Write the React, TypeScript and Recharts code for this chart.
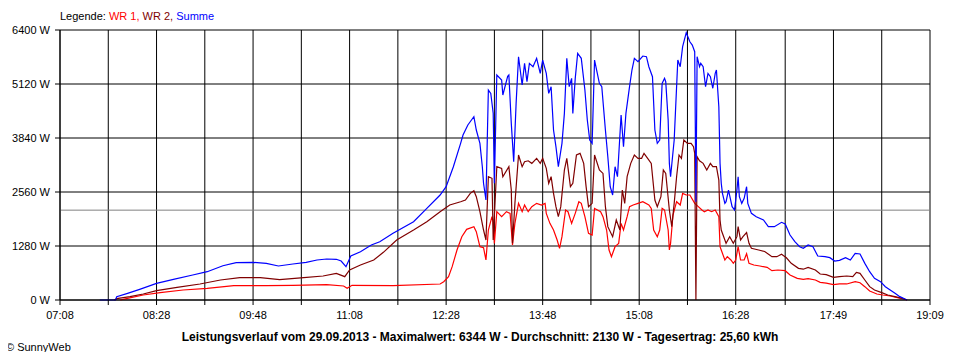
import { LineChart, Line, XAxis, YAxis, CartesianGrid, ReferenceLine } from 'recharts';

// Uhrzeit, Leistung in W
const wr1: [string, number][] = [
  ['07:58', 0], ['08:03', 31], ['08:17', 118], ['08:31', 174], ['08:50', 237], ['09:10', 276], ['09:32', 340], ['09:59', 340],
  ['10:21', 348], ['10:49', 363], ['11:03', 332], ['11:06', 276], ['11:10', 348], ['11:44', 340], ['12:23', 379], ['12:26', 434],
  ['12:30', 553], ['12:33', 790], ['12:37', 1185], ['12:41', 1501], ['12:45', 1675], ['12:51', 1738], ['12:53', 1620], ['12:56', 1264],
  ['12:59', 1240], ['13:01', 948], ['13:03', 1659], ['13:06', 1975], ['13:07', 1856], ['13:08', 1343], ['13:10', 2093], ['13:14', 1975],
  ['13:18', 2093], ['13:21', 2054], ['13:23', 1304], ['13:25', 1817], ['13:28', 2291], ['13:31', 2093], ['13:33', 2252], ['13:36', 2093],
  ['13:39', 2212], ['13:43', 2291], ['13:47', 2252], ['13:50', 2291], ['13:51', 2054], ['13:54', 1817], ['13:57', 1659], ['14:00', 1422],
  ['14:02', 1225], ['14:04', 1501], ['14:07', 2133], ['14:09', 2093], ['14:12', 1817], ['14:15', 2054], ['14:18', 2330], ['14:20', 2291],
  ['14:23', 1975], ['14:26', 1580], ['14:29', 1540], ['14:31', 2172], ['14:36', 2093], ['14:38', 1975], ['14:41', 1659], ['14:43', 1185],
  ['14:45', 1027], ['14:48', 1264], ['14:51', 1343], ['14:53', 1817], ['14:55', 1659], ['14:58', 1975], ['15:00', 2212], ['15:03', 2252],
  ['15:07', 2291], ['15:11', 2330], ['15:16', 2252], ['15:18', 2172], ['15:20', 1659], ['15:23', 1501], ['15:25', 1659], ['15:27', 2172],
  ['15:29', 2133], ['15:32', 1659], ['15:33', 1185], ['15:34', 1343], ['15:36', 2014], ['15:39', 2330], ['15:42', 2252], ['15:44', 2528],
  ['15:47', 2489], ['15:50', 2489], ['15:54', 2291], ['15:57', 2212], ['16:00', 2133], ['16:02', 2093], ['16:05', 2133], ['16:08', 2093],
  ['16:11', 2133], ['16:14', 1975], ['16:15', 1264], ['16:16', 1185], ['16:19', 948], ['16:21', 1027], ['16:24', 948], ['16:26', 869],
  ['16:28', 948], ['16:30', 1264], ['16:32', 948], ['16:35', 948], ['16:37', 1098], ['16:39', 869], ['16:43', 830], ['16:48', 806],
  ['16:54', 774], ['16:58', 695], ['17:03', 711], ['17:09', 695], ['17:13', 593], ['17:19', 513], ['17:24', 490], ['17:28', 505],
  ['17:34', 474], ['17:38', 419], ['17:43', 400], ['17:49', 363], ['17:54', 380], ['18:00', 380], ['18:07', 434], ['18:11', 410],
  ['18:15', 316], ['18:19', 213], ['18:25', 142], ['18:30', 118], ['18:36', 95], ['18:41', 63], ['18:47', 24], ['18:50', 0],
];

const wr2: [string, number][] = [
  ['07:53', 0], ['07:55', 31], ['08:06', 79], ['08:17', 142], ['08:28', 221], ['08:45', 300], ['09:04', 379], ['09:21', 474],
  ['09:37', 529], ['09:54', 529], ['10:10', 482], ['10:30', 529], ['10:46', 569], ['10:57', 632], ['11:04', 553], ['11:08', 711],
  ['11:17', 830], ['11:28', 948], ['11:36', 1130], ['11:47', 1422], ['12:01', 1659], ['12:12', 1856], ['12:23', 2093], ['12:31', 2252],
  ['12:40', 2330], ['12:44', 2370], ['12:48', 2528], ['12:51', 2591], ['12:53', 2449], ['12:56', 2093], ['12:59', 1659], ['13:01', 1422],
  ['13:03', 2923], ['13:06', 2885], ['13:07', 1422], ['13:10', 3160], ['13:14', 3120], ['13:15', 2923], ['13:20', 3160], ['13:22', 2607],
  ['13:23', 1343], ['13:25', 2291], ['13:28', 3437], ['13:31', 3160], ['13:33', 3278], ['13:36', 3300], ['13:39', 3239], ['13:43', 3358],
  ['13:46', 3239], ['13:48', 3358], ['13:51', 3120], ['13:53', 2766], ['13:55', 2923], ['13:57', 2528], ['13:59', 2212], ['14:01', 1975],
  ['14:03', 2212], ['14:06', 3081], ['14:08', 3358], ['14:11', 2686], ['14:13', 2766], ['14:16', 3437], ['14:19', 3476], ['14:22', 3239],
  ['14:24', 2686], ['14:26', 2212], ['14:29', 2291], ['14:31', 3437], ['14:35', 3081], ['14:38', 3000], ['14:40', 2212], ['14:42', 1738],
  ['14:46', 1501], ['14:49', 1896], ['14:52', 1659], ['14:54', 2607], ['14:56', 2291], ['14:58', 2923], ['15:01', 3239], ['15:04', 3437],
  ['15:07', 3358], ['15:10', 3358], ['15:12', 3476], ['15:15', 3358], ['15:18', 3239], ['15:21', 2370], ['15:23', 2212], ['15:26', 2449],
  ['15:28', 3081], ['15:30', 3000], ['15:33', 2133], ['15:35', 1738], ['15:37', 2291], ['15:39', 2923], ['15:41', 3437], ['15:43', 3358],
  ['15:45', 3792], ['15:48', 3713], ['15:51', 3713], ['15:53', 3634], ['15:54', 3476], ['15:55', 0], ['15:56', 3397], ['15:58', 3300],
  ['16:01', 3239], ['16:04', 3081], ['16:07', 3239], ['16:09', 3160], ['16:12', 3160], ['16:14', 2844], ['16:15', 1896], ['16:16', 1659],
  ['16:19', 1422], ['16:20', 1343], ['16:23', 1501], ['16:26', 1343], ['16:29', 1501], ['16:30', 1738], ['16:32', 1422], ['16:34', 1501],
  ['16:37', 1600], ['16:39', 1343], ['16:41', 1225], ['16:47', 1185], ['16:52', 1150], ['16:58', 1027], ['17:02', 1027], ['17:06', 1083],
  ['17:10', 1000], ['17:14', 869], ['17:20', 751], ['17:24', 730], ['17:28', 774], ['17:34', 711], ['17:38', 616], ['17:43', 600],
  ['17:49', 537], ['17:54', 553], ['18:00', 569], ['18:05', 553], ['18:08', 656], ['18:11', 632], ['18:15', 474], ['18:19', 316],
  ['18:23', 237], ['18:29', 174], ['18:34', 118], ['18:40', 79], ['18:46', 39], ['18:50', 0],
];

const summe: [string, number][] = [
  ['07:41', 0], ['07:54', 0], ['07:55', 78], ['08:04', 158], ['08:14', 253], ['08:28', 395], ['08:42', 490], ['08:58', 592],
  ['09:10', 671], ['09:23', 813], ['09:34', 885], ['09:48', 893], ['09:59', 869], ['10:09', 806], ['10:21', 853], ['10:32', 893],
  ['10:41', 948], ['10:49', 972], ['10:57', 965], ['11:01', 924], ['11:05', 790], ['11:09', 1043], ['11:17', 1145], ['11:26', 1304],
  ['11:33', 1382], ['11:44', 1580], ['12:01', 1856], ['12:12', 2173], ['12:23', 2489], ['12:28', 2686], ['12:34', 3160], ['12:40', 3713],
  ['12:42', 3911], ['12:46', 4148], ['12:51', 4345], ['12:53', 4029], ['12:56', 3713], ['12:58', 3160], ['12:59', 2766], ['13:01', 2370],
  ['13:03', 4977], ['13:05', 4898], ['13:07', 4427], ['13:08', 2766], ['13:10', 5333], ['13:14', 5214], ['13:15', 4859], ['13:19', 5300],
  ['13:20', 5333], ['13:22', 4187], ['13:24', 3278], ['13:26', 4661], ['13:28', 5767], ['13:31', 5096], ['13:33', 5609], ['13:35', 5175],
  ['13:37', 5609], ['13:40', 5530], ['13:43', 5728], ['13:46', 5372], ['13:48', 5688], ['13:51', 5372], ['13:53', 4898], ['13:55', 5056],
  ['13:57', 4029], ['13:59', 3634], ['14:01', 3160], ['14:04', 3713], ['14:06', 4424], ['14:08', 5728], ['14:10', 5056], ['14:12', 5254],
  ['14:13', 4424], ['14:15', 5254], ['14:17', 5846], ['14:20', 5728], ['14:23', 4977], ['14:25', 4266], ['14:27', 3792], ['14:29', 3713],
  ['14:31', 5688], ['14:35', 5135], ['14:37', 5056], ['14:40', 4029], ['14:42', 3397], ['14:44', 2686], ['14:46', 2489], ['14:48', 3160],
  ['14:50', 2923], ['14:53', 4384], ['14:55', 3634], ['14:57', 4424], ['15:00', 5056], ['15:02', 5451], ['15:04', 5728], ['15:07', 5649],
  ['15:11', 5783], ['15:14', 5767], ['15:16', 5530], ['15:19', 5293], ['15:21', 4029], ['15:23', 3713], ['15:25', 3790], ['15:27', 5135],
  ['15:29', 5254], ['15:30', 5175], ['15:32', 4266], ['15:33', 3239], ['15:34', 2923], ['15:37', 3792], ['15:38', 4424], ['15:40', 5688],
  ['15:42', 5530], ['15:44', 6004], ['15:47', 6336], ['15:50', 6121], ['15:52', 6043], ['15:54', 5886], ['15:55', 2330], ['15:56', 5767],
  ['15:58', 5530], ['15:59', 5609], ['16:01', 5530], ['16:03', 5056], ['16:05', 5372], ['16:07', 5293], ['16:09', 5019], ['16:11', 5372],
  ['16:12', 5451], ['16:14', 4582], ['16:15', 3239], ['16:16', 2766], ['16:17', 2528], ['16:19', 2291], ['16:20', 2330], ['16:22', 2607],
  ['16:25', 2212], ['16:27', 2133], ['16:29', 2607], ['16:30', 2923], ['16:31', 2449], ['16:33', 2291], ['16:35', 2410], ['16:37', 2686],
  ['16:38', 2291], ['16:41', 2054], ['16:45', 1975], ['16:51', 1896], ['16:55', 1738], ['17:00', 1738], ['17:06', 1841], ['17:09', 1800],
  ['17:13', 1541], ['17:17', 1382], ['17:21', 1264], ['17:24', 1225], ['17:28', 1304], ['17:32', 1264], ['17:36', 1043], ['17:42', 1027],
  ['17:46', 1003], ['17:50', 924], ['17:54', 940], ['17:59', 1003], ['18:03', 948], ['18:07', 1106], ['18:11', 1090], ['18:15', 869],
  ['18:19', 671], ['18:23', 513], ['18:28', 434], ['18:32', 316], ['18:36', 237], ['18:40', 158], ['18:44', 79], ['18:50', 0],
];

const xLabels = ['07:08', '07:48', '08:28', '09:08', '09:48', '10:28', '11:08', '11:48', '12:28', '13:08',
  '13:48', '14:28', '15:08', '15:48', '16:28', '17:09', '17:49', '18:29', '19:09'];
const yTicks = [0, 1280, 2560, 3840, 5120, 6400];
const durchschnitt = 2130;

const toMin = (s: string) => {
  const [h, m] = s.split(':').map(Number);
  return h * 60 + m;
};
const toRows = (arr: [string, number][]) => arr.map(([t, w]) => ({ t: toMin(t), w }));

const xTicks = xLabels.map(toMin);
const font = '"Liberation Sans", Arial, sans-serif';

export default function App() {
  return (
    <div style={{ position: 'relative', width: 960, height: 360, margin: -8, background: '#fff', fontFamily: font }}>
      <div style={{ position: 'absolute', left: 60, top: 9, fontSize: 11, lineHeight: '14px' }}>
        Legende: <span style={{ color: '#ff0000' }}>WR 1,</span> <span style={{ color: '#800000' }}>WR 2,</span>{' '}
        <span style={{ color: '#0000ff' }}>Summe</span>
      </div>
      <LineChart width={960} height={360} margin={{ top: 30, right: 30, left: 0, bottom: 30 }} style={{ fontFamily: font }}>
        <CartesianGrid stroke="#000" strokeWidth={1} />
        <XAxis
          dataKey="t"
          type="number"
          domain={[xTicks[0], xTicks[xTicks.length - 1]]}
          ticks={xTicks}
          interval={0}
          height={30}
          tickSize={5}
          tickMargin={6}
          stroke="#000"
          tick={{ fill: '#000', fontSize: 11 }}
          tickFormatter={(v: number, i: number) => (i % 2 === 0 ? xLabels[i] : '')}
          allowDataOverflow
        />
        <YAxis
          type="number"
          domain={[0, 6400]}
          ticks={yTicks}
          interval={0}
          width={60}
          tickSize={5}
          tickMargin={5}
          stroke="#000"
          tick={{ fill: '#000', fontSize: 11 }}
          tickFormatter={(v: number) => `${v} W`}
        />
        <ReferenceLine y={durchschnitt} stroke="#808080" strokeWidth={1} />
        <Line data={toRows(wr1)} dataKey="w" name="WR 1" stroke="#ff0000" strokeWidth={1.2} dot={false} isAnimationActive={false} />
        <Line data={toRows(wr2)} dataKey="w" name="WR 2" stroke="#800000" strokeWidth={1.2} dot={false} isAnimationActive={false} />
        <Line data={toRows(summe)} dataKey="w" name="Summe" stroke="#0000ff" strokeWidth={1.2} dot={false} isAnimationActive={false} />
      </LineChart>
      <div style={{ position: 'absolute', left: 0, width: 960, top: 330, textAlign: 'center', fontSize: 12, fontWeight: 'bold', lineHeight: '14px' }}>
        Leistungsverlauf vom 29.09.2013 - Maximalwert: 6344 W - Durchschnitt: {durchschnitt} W - Tagesertrag: 25,60 kWh
      </div>
      <div style={{ position: 'absolute', left: 6, top: 340, fontSize: 11, lineHeight: '14px' }}>© SunnyWeb</div>
    </div>
  );
}
